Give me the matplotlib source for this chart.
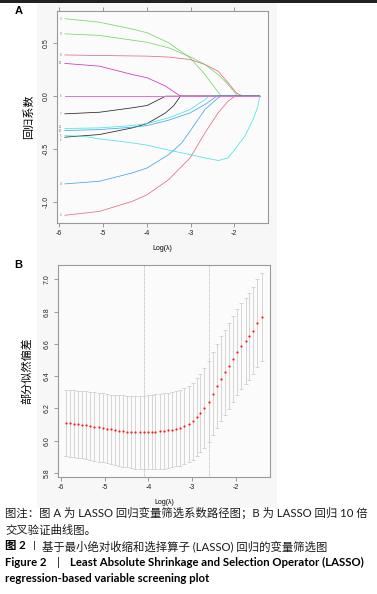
import matplotlib
matplotlib.use("Agg")
import matplotlib.pyplot as plt
from matplotlib.patches import Rectangle

plt.rcParams['font.family'] = ['Liberation Sans', 'Noto Sans CJK SC', 'DejaVu Sans']

# ---- panel A: coefficient paths (log lambda, coefficient) per variable ----
paths = {
    "1":  ([-5.87, -5.08, -4.33, -3.99, -3.57, -3.38, -3.23, -1.42],
           [-0.388, -0.363, -0.300, -0.259, -0.158, -0.088, 0.0, 0.0]),
    "2":  ([-5.87, -5.08, -4.33, -3.99, -3.50, -3.01, -2.67, -2.37, -2.14, -1.99, -1.42],
           [-1.127, -1.090, -0.995, -0.932, -0.790, -0.584, -0.347, -0.158, -0.047, 0.0, 0.0]),
    "3":  ([-5.87, -5.08, -4.33, -3.99, -3.50, -3.01, -2.67, -2.30, -1.42],
           [0.733, 0.700, 0.635, 0.600, 0.505, 0.363, 0.205, 0.0, 0.0]),
    "4":  ([-5.87, -5.08, -4.33, -3.99, -3.50, -3.20, -3.01, -2.67, -2.37, -2.29, -1.42],
           [-0.830, -0.805, -0.726, -0.679, -0.553, -0.442, -0.330, -0.126, -0.016, 0.0, 0.0]),
    "5":  ([-5.87, -5.46, -5.08, -4.33, -3.99, -3.50, -3.01, -2.67, -2.36, -2.14, -2.02, -1.76, -1.57, -1.46, -1.42],
           [-0.373, -0.379, -0.404, -0.442, -0.464, -0.510, -0.553, -0.584, -0.609, -0.584, -0.520, -0.379, -0.220, -0.095, 0.0]),
    "6":  ([-5.87, -1.42],
           [0.0, 0.0]),
    "7":  ([-5.87, -5.08, -4.33, -3.99, -3.57, -1.42],
           [-0.167, -0.152, -0.110, -0.088, 0.0, 0.0]),
    "8":  ([-5.87, -5.08, -3.99, -3.50, -3.01, -2.67, -2.37, -2.14, -1.95, -1.80, -1.42],
           [0.390, 0.385, 0.379, 0.370, 0.347, 0.300, 0.237, 0.126, 0.030, 0.0, 0.0]),
    "9":  ([-5.87, -5.08, -4.33, -3.99, -3.50, -3.01, -2.67, -2.37, -2.14, -1.95, -1.92, -1.42],
           [0.590, 0.575, 0.530, 0.510, 0.458, 0.373, 0.300, 0.205, 0.110, 0.015, 0.0, 0.0]),
    "10": ([-5.87, -5.08, -4.33, -3.99, -3.50, -3.01, -2.67, -2.40, -1.42],
           [-0.325, -0.316, -0.294, -0.278, -0.227, -0.158, -0.079, 0.0, 0.0]),
    "11": ([-5.87, -5.08, -4.33, -3.99, -3.50, -3.01, -2.67, -2.58, -1.42],
           [-0.306, -0.300, -0.278, -0.259, -0.205, -0.126, -0.032, 0.0, 0.0]),
    "12": ([-5.87, -5.08, -4.33, -3.99, -3.57, -3.23, -1.42],
           [0.310, 0.284, 0.205, 0.174, 0.095, 0.0, 0.0]),
}
path_colors = ['#000000', '#DF536B', '#61D04F', '#2297E6', '#28E2E5', '#CD0BBC']
# small nudges so the crowded left-edge labels do not sit on each other
label_nudge = {"11": 0.012, "10": -0.006, "5": 0.0, "1": -0.022}

# ---- panel B: cross-validation curve ----
log_lam = [-5.89, -5.79, -5.70, -5.61, -5.51, -5.42, -5.33, -5.24, -5.14, -5.05,
           -4.96, -4.86, -4.77, -4.67, -4.58, -4.49, -4.39, -4.30, -4.20, -4.11,
           -4.02, -3.93, -3.84, -3.74, -3.65, -3.55, -3.46, -3.36, -3.27, -3.18,
           -3.08, -2.99, -2.90, -2.81, -2.72, -2.62, -2.53, -2.43, -2.34, -2.24,
           -2.15, -2.06, -1.97, -1.88, -1.78, -1.69, -1.60, -1.51, -1.40]
cv_mean = [6.110, 6.108, 6.106, 6.102, 6.099, 6.095, 6.091, 6.087, 6.083, 6.079,
           6.075, 6.070, 6.066, 6.062, 6.060, 6.056, 6.054, 6.052, 6.052, 6.052,
           6.052, 6.054, 6.056, 6.058, 6.060, 6.064, 6.068, 6.075, 6.081, 6.089,
           6.102, 6.120, 6.145, 6.172, 6.205, 6.242, 6.290, 6.338, 6.385, 6.425,
           6.464, 6.508, 6.549, 6.587, 6.618, 6.647, 6.682, 6.730, 6.765]
cv_se = [0.205, 0.206, 0.207, 0.208, 0.209, 0.210, 0.211, 0.212, 0.213, 0.214,
         0.215, 0.216, 0.218, 0.219, 0.221, 0.222, 0.224, 0.225, 0.226, 0.228,
         0.229, 0.230, 0.231, 0.232, 0.233, 0.233, 0.234, 0.234, 0.235, 0.236,
         0.237, 0.239, 0.241, 0.244, 0.248, 0.253, 0.257, 0.260, 0.262, 0.264,
         0.265, 0.266, 0.267, 0.268, 0.269, 0.270, 0.271, 0.272, 0.273]
idx_min, idx_1se = 19, 35

xticks = [-6, -5, -4, -3, -2]
yticks_a = [0.5, 0.0, -0.5, -1.0]
yticks_b = [5.8, 6.0, 6.2, 6.4, 6.6, 6.8, 7.0]

W, H = 377, 594
fig = plt.figure(figsize=(W / 100, H / 100), dpi=100)
fig.patch.set_facecolor('white')

# dark rule at the top and faint grey plot background
fig.add_artist(Rectangle((0, 1 - 3 / H), 1, 3 / H, transform=fig.transFigure,
                         color='#222222', lw=0))
fig.add_artist(Rectangle((37 / W, 1 - 508 / H), 240 / W, 505 / H, transform=fig.transFigure,
                         color='#f7f7f7', lw=0, zorder=0))

def style_axes(ax, yticks, fmt):
    ax.set_facecolor('#fbfbfb')
    for s in ax.spines.values():
        s.set_color('#9a9a9a')
        s.set_linewidth(0.8)
    ax.set_xticks(xticks)
    ax.set_xticklabels([str(t) for t in xticks], fontsize=5)
    ax.set_yticks(yticks)
    ax.set_yticklabels([fmt % t for t in yticks], fontsize=5, rotation=90, va='center')
    ax.tick_params(length=3, width=0.6, color='#888888', pad=2, labelcolor='#222222')
    ax.set_xlabel('Log(λ)', fontsize=5, labelpad=6)

# panel A
ax1 = fig.add_axes([57 / W, 1 - 223 / H, 211 / W, 212 / H])
for i, (name, (xs, ys)) in enumerate(paths.items()):
    if name == "6":
        ax1.plot(xs, ys, color='#e070dc', lw=0.7, zorder=4)
    else:
        ax1.plot(xs, ys, color=path_colors[i % 6], lw=0.55, alpha=0.85, zorder=2)
    ax1.text(-5.97, ys[0] + label_nudge.get(name, 0.0), name, fontsize=2.2,
             color='#777777', ha='center', va='center')
ax1.set_xlim(-6.05, -1.23)
ax1.set_ylim(-1.2, 0.806)
style_axes(ax1, yticks_a, '%.1f')
ax1.set_ylabel('回归系数', fontsize=8, labelpad=6)
ax1.yaxis.set_label_coords(-0.11, 0.5)
top = ax1.secondary_xaxis('top')
top.set_xticks(xticks)
top.set_xticklabels([''] * len(xticks))
top.tick_params(length=3, width=0.6, color='#888888')
top.spines['top'].set_visible(False)
fig.text(15 / W, 1 - 11 / H, 'A', fontsize=8, fontweight='bold', va='center', ha='left')

# panel B
ax2 = fig.add_axes([58 / W, 1 - 477 / H, 212 / W, 212 / H])
ax2.errorbar(log_lam, cv_mean, yerr=cv_se, fmt='none', ecolor='#cfcfcf',
             elinewidth=0.6, capsize=1.3, capthick=0.6, zorder=2)
ax2.scatter(log_lam, cv_mean, s=2.5, color='#ff1a1a', lw=0, zorder=3)
for k in (idx_min, idx_1se):
    ax2.axvline(log_lam[k], color='#bdbdbd', lw=0.6, ls=(0, (1, 0.6)), zorder=1)
ax2.set_xlim(-6.07, -1.22)
ax2.set_ylim(5.775, 7.089)
style_axes(ax2, yticks_b, '%.1f')
ax2.set_ylabel('部分似然偏差', fontsize=8, labelpad=6)
ax2.yaxis.set_label_coords(-0.12, 0.5)
fig.text(14 / W, 1 - 265 / H, 'B', fontsize=8, fontweight='bold', va='center', ha='left')

# caption
cap = ['Lato', 'Noto Sans CJK SC', 'DejaVu Sans']
def y(px):
    return 1 - px / H
fs_cn, fs_en = 8.2, 8.2
fig.text(5 / W, y(513), '图注：图 A 为 LASSO 回归变量筛选系数路径图；B 为 LASSO 回归 10 倍',
         fontsize=fs_cn, family=cap, va='center', color='#1a1a1a')
fig.text(5 / W, y(530), '交叉验证曲线图。', fontsize=fs_cn, family=cap, va='center', color='#1a1a1a')
fig.text(5 / W, y(546), '图 2', fontsize=fs_cn, family=cap, fontweight='bold', va='center')
fig.text(34 / W, y(546), '丨', fontsize=6.5, family=cap, va='center', ha='center')
fig.text(42 / W, y(546), '基于最小绝对收缩和选择算子 (LASSO) 回归的变量筛选图',
         fontsize=fs_cn, family=cap, va='center', color='#1a1a1a')
fig.text(5 / W, y(562), 'Figure 2', fontsize=fs_en, family=cap, fontweight='bold', va='center')
fig.text(57 / W, y(562), '|', fontsize=fs_en, family=cap, va='center')
fig.text(70 / W, y(562), 'Least Absolute Shrinkage and Selection Operator (LASSO)',
         fontsize=fs_en, family=cap, fontweight='bold', va='center')
fig.text(5 / W, y(579), 'regression-based variable screening plot',
         fontsize=fs_en, family=cap, fontweight='bold', va='center')

fig.savefig('out.png', dpi=100)
